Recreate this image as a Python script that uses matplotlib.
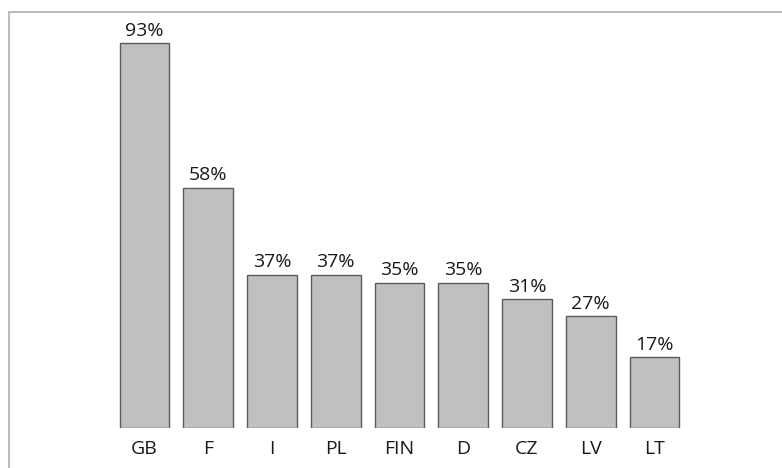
import matplotlib
matplotlib.use("Agg")
import matplotlib.pyplot as plt
from matplotlib.patches import Rectangle

categories = ["GB", "F", "I", "PL", "FIN", "D", "CZ", "LV", "LT"]
values = [93, 58, 37, 37, 35, 35, 31, 27, 17]
value_labels = ["93%", "58%", "37%", "37%", "35%", "35%", "31%", "27%", "17%"]

W, H = 782, 468
fig = plt.figure(figsize=(W / 100, H / 100), dpi=100)
plt.rcParams['font.family'] = ['Open Sans', 'DejaVu Sans']

# outer frame (cropped grey box)
fig.add_artist(Rectangle((8.5 / W, -0.1), 1.2, (H - 11.5) / H + 0.1,
                         transform=fig.transFigure, fill=False,
                         edgecolor="#b4b4b4", linewidth=1.3))

spacing = 63.75
x0 = 144.5 - 0.5 * spacing
ax_left = x0 / W
ax_width = 9 * spacing / W
y_bottom = 427.5
px_per_unit = 4.13
ax = fig.add_axes([ax_left, (H - y_bottom) / H, ax_width, 100 * px_per_unit / H])
ax.set_xlim(-0.5, 8.5)
ax.set_ylim(0, 100)

xs = list(range(len(categories)))
ax.bar(xs, values, width=0.78, color="#c0c0c0", edgecolor="#5a5a5a", linewidth=1.0)
for x, v, lab in zip(xs, values, value_labels):
    ax.annotate(lab, (x, v), xytext=(0, 2.5), textcoords="offset points",
                ha="center", va="bottom", fontsize=14, color="#1a1a1a")

ax.set_xticks(xs)
ax.set_xticklabels(categories, fontsize=14, color="#1a1a1a")
ax.tick_params(axis="x", length=0, pad=9)
ax.set_yticks([])
for s in ax.spines.values():
    s.set_visible(False)
ax.patch.set_alpha(0)

fig.savefig("out.png", dpi=100)
